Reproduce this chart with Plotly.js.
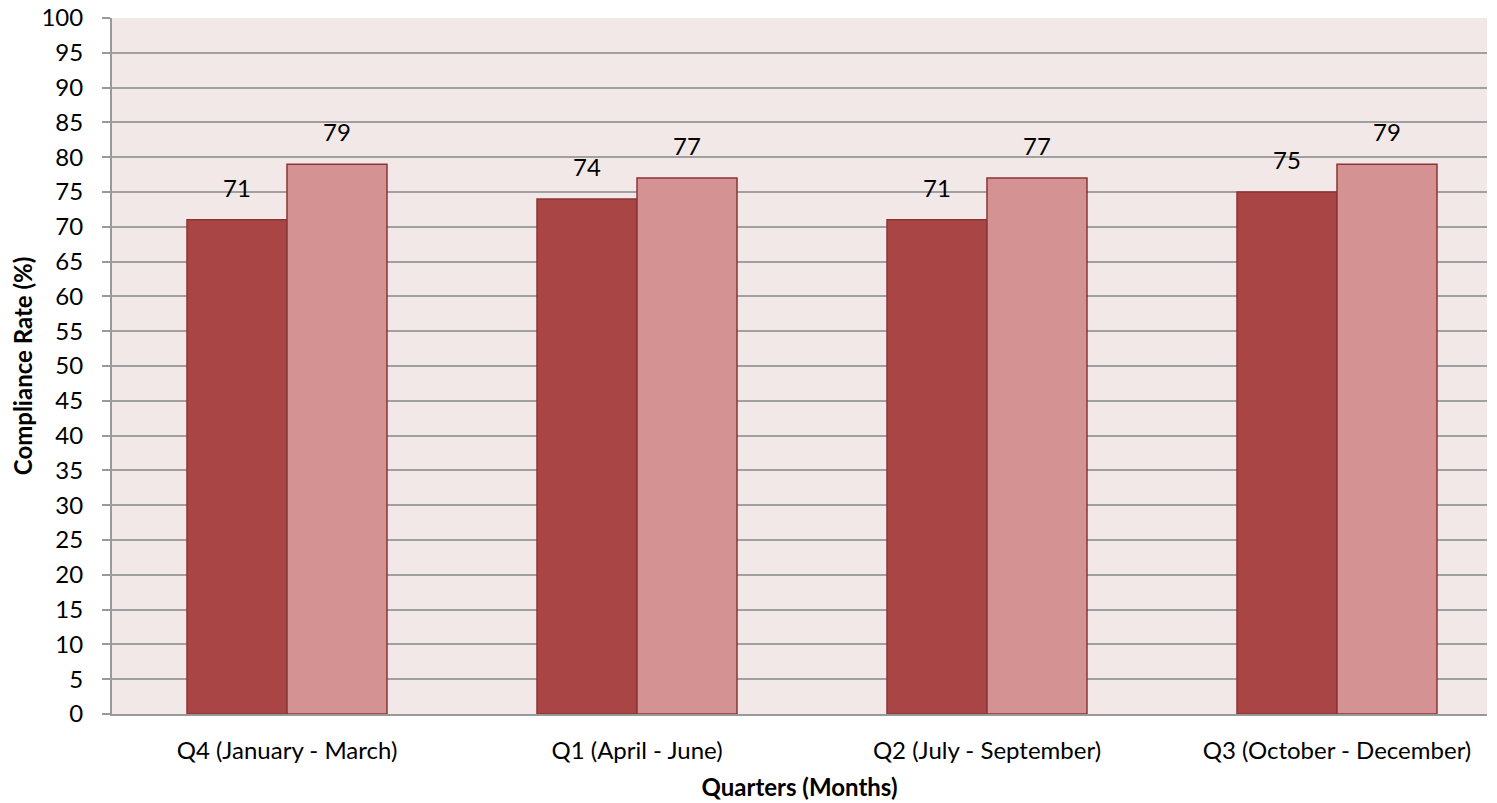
<!DOCTYPE html>
<html>
<head>
<meta charset="utf-8">
<script src="https://cdn.plot.ly/plotly-3.0.1.min.js"></script>
<style>html,body{margin:0;padding:0;background:#fff}#chart{width:1497px;height:803px}</style>
</head>
<body>
<div id="chart"></div>
<script>
const categories = ["Q4 (January - March)", "Q1 (April - June)", "Q2 (July - September)", "Q3 (October - December)"];
const seriesA = [71, 74, 71, 75];
const seriesB = [79, 77, 77, 79];
const yTicks = [0,5,10,15,20,25,30,35,40,45,50,55,60,65,70,75,80,85,90,95,100];

const FONT = "Lato, 'Open Sans', sans-serif";
const FS = 24;

const traces = [
  {type:'bar', x:categories, y:seriesA, name:'A',
   marker:{color:'#A94545', line:{color:'#8C3434', width:1.5}}},
  {type:'bar', x:categories, y:seriesB, name:'B',
   marker:{color:'#D49292', line:{color:'#8C3434', width:1.5}}}
];

const annotations = [];
categories.forEach((c,i)=>{
  annotations.push({x:c, y:seriesA[i], text:String(seriesA[i]), xref:'x', yref:'y',
    showarrow:false, xshift:-50, yshift:16, yanchor:'bottom', font:{family:FONT,size:FS,color:'#000'}});
  annotations.push({x:c, y:seriesB[i], text:String(seriesB[i]), xref:'x', yref:'y',
    showarrow:false, xshift:50, yshift:16, yanchor:'bottom', font:{family:FONT,size:FS,color:'#000'}});
});

const layout = {
  width:1497, height:803,
  margin:{l:112, r:10, t:18, b:89},
  paper_bgcolor:'#ffffff',
  plot_bgcolor:'#F3E8E8',
  showlegend:false,
  barmode:'group',
  bargap:0.4286,
  bargroupgap:0,
  font:{family:FONT, size:FS, color:'#000'},
  xaxis:{
    type:'category',
    range:[-0.5, 3.4286],
    showline:true, linecolor:'#999999', linewidth:2,
    ticks:'', showgrid:false,
    ticklabelstandoff:14,
    tickfont:{family:FONT,size:FS,color:'#000'},
    title:{text:'<b>Quarters (Months)</b>', font:{family:FONT,size:FS,color:'#000'}, standoff:16}
  },
  yaxis:{
    range:[0,100], tickvals:yTicks, ticktext:yTicks.map(String),
    showline:true, linecolor:'#999999', linewidth:2,
    ticks:'outside', ticklen:8, tickcolor:'#999999', tickwidth:2,
    ticklabelstandoff:14,
    showgrid:true, gridcolor:'#A0A0A0', gridwidth:2,
    zeroline:false,
    tickfont:{family:FONT,size:FS,color:'#000'},
    title:{text:'<b>Compliance Rate (%)</b>', font:{family:FONT,size:FS,color:'#000'}, standoff:2}
  },
  annotations:annotations
};

Plotly.newPlot('chart', traces, layout, {displayModeBar:false, staticPlot:true});
</script>
</body>
</html>
